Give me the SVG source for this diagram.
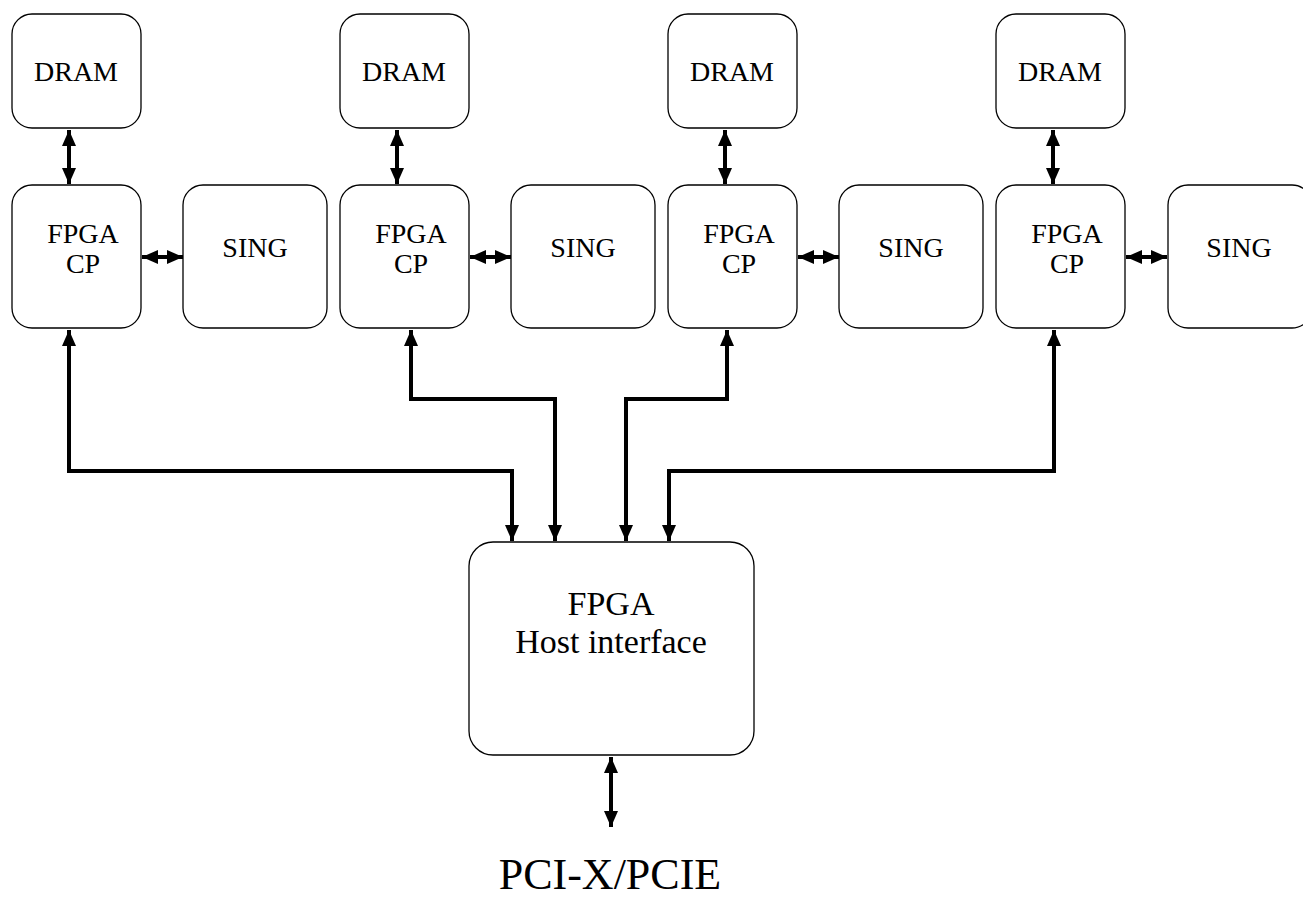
<svg xmlns="http://www.w3.org/2000/svg" width="1303" height="902" viewBox="0 0 1303 902">
<style>
.box{fill:#fff;stroke:#000;stroke-width:1.3}
.t{font-family:"Liberation Serif",serif;fill:#000;text-anchor:middle;font-size:28px}
.h{font-size:34px}
.c{fill:none;stroke:#000;stroke-width:4;stroke-linejoin:miter}
</style>
<defs>
<marker id="ah" markerUnits="userSpaceOnUse" viewBox="0 0 16 14" refX="16" refY="7" markerWidth="16" markerHeight="14" orient="auto-start-reverse">
<path d="M0,0 L16,7 L0,14 z" fill="#000"/>
</marker>
</defs>
<rect width="1303" height="902" fill="#fff"/>
<g id="col1">
<g id="dram1"><rect class="box" x="12" y="14" width="129" height="114" rx="20"/><text class="t" x="76" y="81">DRAM</text></g>
<g id="fpga1"><rect class="box" x="12" y="185" width="129" height="143" rx="20"/><text class="t" x="83" y="243">FPGA</text><text class="t" x="83" y="273">CP</text></g>
<g id="sing1"><rect class="box" x="183" y="185" width="144" height="143" rx="20"/><text class="t" x="255" y="257">SING</text></g>
</g>
<g id="col2">
<g id="dram2"><rect class="box" x="340" y="14" width="129" height="114" rx="20"/><text class="t" x="404" y="81">DRAM</text></g>
<g id="fpga2"><rect class="box" x="340" y="185" width="129" height="143" rx="20"/><text class="t" x="411" y="243">FPGA</text><text class="t" x="411" y="273">CP</text></g>
<g id="sing2"><rect class="box" x="511" y="185" width="144" height="143" rx="20"/><text class="t" x="583" y="257">SING</text></g>
</g>
<g id="col3">
<g id="dram3"><rect class="box" x="668" y="14" width="129" height="114" rx="20"/><text class="t" x="732" y="81">DRAM</text></g>
<g id="fpga3"><rect class="box" x="668" y="185" width="129" height="143" rx="20"/><text class="t" x="739" y="243">FPGA</text><text class="t" x="739" y="273">CP</text></g>
<g id="sing3"><rect class="box" x="839" y="185" width="144" height="143" rx="20"/><text class="t" x="911" y="257">SING</text></g>
</g>
<g id="col4">
<g id="dram4"><rect class="box" x="996" y="14" width="129" height="114" rx="20"/><text class="t" x="1060" y="81">DRAM</text></g>
<g id="fpga4"><rect class="box" x="996" y="185" width="129" height="143" rx="20"/><text class="t" x="1067" y="243">FPGA</text><text class="t" x="1067" y="273">CP</text></g>
<g id="sing4"><rect class="box" x="1168" y="185" width="144" height="143" rx="20"/><text class="t" x="1239" y="257">SING</text></g>
</g>
<g id="host"><rect class="box" x="469" y="542" width="285" height="213" rx="24"/><text class="t h" x="611" y="615">FPGA</text><text class="t h" x="611" y="653">Host interface</text></g>
<g id="pci"><text class="t" x="610" y="889" style="font-size:44px">PCI-X/PCIE</text></g>
<g id="connectors">
<path class="c" d="M69,130 V184" marker-start="url(#ah)" marker-end="url(#ah)"/>
<path class="c" d="M397,130 V184" marker-start="url(#ah)" marker-end="url(#ah)"/>
<path class="c" d="M725,130 V184" marker-start="url(#ah)" marker-end="url(#ah)"/>
<path class="c" d="M1053,130 V184" marker-start="url(#ah)" marker-end="url(#ah)"/>
<path class="c" d="M142,257 H183" marker-start="url(#ah)" marker-end="url(#ah)"/>
<path class="c" d="M470,257 H511" marker-start="url(#ah)" marker-end="url(#ah)"/>
<path class="c" d="M798,257 H839" marker-start="url(#ah)" marker-end="url(#ah)"/>
<path class="c" d="M1126,257 H1167" marker-start="url(#ah)" marker-end="url(#ah)"/>
<path class="c" d="M69,330 V471 H512 V541" marker-start="url(#ah)" marker-end="url(#ah)"/>
<path class="c" d="M411,330 V399 H555 V541" marker-start="url(#ah)" marker-end="url(#ah)"/>
<path class="c" d="M727,330 V399 H626 V541" marker-start="url(#ah)" marker-end="url(#ah)"/>
<path class="c" d="M1054,330 V471 H669 V541" marker-start="url(#ah)" marker-end="url(#ah)"/>
<path class="c" d="M611,757 V827" marker-start="url(#ah)" marker-end="url(#ah)"/>
</g>
</svg>
